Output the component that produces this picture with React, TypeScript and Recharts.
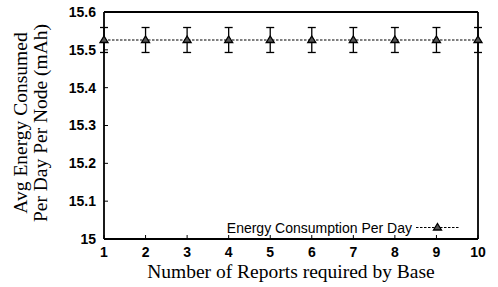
import {
  ComposedChart,
  Line,
  ErrorBar,
  XAxis,
  YAxis,
  Legend,
} from "recharts";

const reports = [1, 2, 3, 4, 5, 6, 7, 8, 9, 10];
const energy = [15.526, 15.526, 15.526, 15.526, 15.526, 15.526, 15.526, 15.526, 15.526, 15.526];
const energyErr = [0.033, 0.033, 0.033, 0.033, 0.033, 0.033, 0.033, 0.033, 0.033, 0.033];
const yTicks = [15, 15.1, 15.2, 15.3, 15.4, 15.5, 15.6];

const data = reports.map((x, i) => ({ x, energy: energy[i], err: energyErr[i] }));

const SANS = "'Liberation Sans', Arial, sans-serif";
const SERIF = "'Liberation Serif', 'Times New Roman', serif";

function Triangle(props: any) {
  const { cx, cy } = props;
  if (cx == null || cy == null) return null;
  return (
    <path
      d={`M${cx},${cy - 4} L${cx + 4},${cy + 2.5} L${cx - 4},${cy + 2.5} Z`}
      fill="#555"
      stroke="#000"
      strokeWidth={1.3}
    />
  );
}

function YTitle(props: any) {
  const x0 = props.viewBox ? props.viewBox.x : 0;
  const yc = 123;
  return (
    <g fontFamily={SERIF} fontSize={19.5} fill="#000">
      <text x={x0 + 27} y={yc} textAnchor="middle" transform={`rotate(-90 ${x0 + 27} ${yc})`}>
        Avg Energy Consumed
      </text>
      <text x={x0 + 47} y={yc} textAnchor="middle" transform={`rotate(-90 ${x0 + 47} ${yc})`}>
        Per Day Per Node (mAh)
      </text>
    </g>
  );
}

function KeyBox(props: any) {
  const item = props.payload && props.payload[0];
  const name = item ? item.value : "";
  return (
    <svg width={240} height={20} style={{ display: "block" }}>
      <text x={186} y={15} textAnchor="end" fontFamily={SANS} fontSize={14} fill="#000">
        {name}
      </text>
      <line x1={190} x2={233} y1={9.5} y2={9.5} stroke="#000" strokeWidth={1.2} strokeDasharray="2.5 1.5" />
      <path d="M211.5,5.5 L215.5,12 L207.5,12 Z" fill="#555" stroke="#000" strokeWidth={1.3} />
    </svg>
  );
}

export default function App() {
  return (
    <div style={{ position: "absolute", left: 0, top: 0, background: "#fff" }}>
      <ComposedChart
        width={498}
        height={287}
        data={data}
        margin={{ top: 11, right: 19, bottom: 0, left: 0 }}
      >
        <XAxis
          dataKey="x"
          type="number"
          domain={[1, 10]}
          ticks={reports}
          height={48}
          tickSize={-4}
          tickMargin={12}
          axisLine={{ stroke: "#000", strokeWidth: 1.8 }}
          tickLine={{ stroke: "#000", strokeWidth: 1 }}
          tick={{ fill: "#000", fontSize: 14, fontFamily: SANS, fontWeight: "bold" }}
          label={{
            value: "Number of Reports required by Base",
            position: "insideBottom",
            offset: 9,
            fill: "#000",
            fontSize: 19.5,
            fontFamily: SERIF,
          }}
        />
        <XAxis
          xAxisId="top"
          orientation="top"
          type="number"
          domain={[1, 10]}
          ticks={reports}
          height={1}
          tickSize={-4}
          tick={false}
          axisLine={{ stroke: "#000", strokeWidth: 1.8 }}
          tickLine={{ stroke: "#000", strokeWidth: 1 }}
        />
        <YAxis
          type="number"
          domain={[15, 15.6]}
          ticks={yTicks}
          width={104}
          tickSize={-4}
          tickMargin={12}
          axisLine={{ stroke: "#000", strokeWidth: 1.8 }}
          tickLine={{ stroke: "#000", strokeWidth: 1 }}
          tick={{ fill: "#000", fontSize: 14, fontFamily: SANS, fontWeight: "bold" }}
          label={{ content: YTitle }}
        />
        <YAxis
          yAxisId="right"
          orientation="right"
          type="number"
          domain={[15, 15.6]}
          ticks={yTicks}
          width={1}
          tickSize={-4}
          tick={false}
          axisLine={{ stroke: "#000", strokeWidth: 1.8 }}
          tickLine={{ stroke: "#000", strokeWidth: 1 }}
        />
        <Legend
          layout="vertical"
          verticalAlign="middle"
          align="center"
          content={KeyBox}
          wrapperStyle={{ left: 226, top: 218, width: 240 }}
        />
        <Line
          dataKey="energy"
          name="Energy Consumption Per Day"
          stroke="#000"
          strokeWidth={1.2}
          strokeDasharray="2.5 1.5"
          dot={<Triangle />}
          activeDot={false}
          isAnimationActive={false}
        >
          <ErrorBar
            dataKey="err"
            direction="y"
            width={4}
            stroke="#000"
            strokeWidth={1.3}
            isAnimationActive={false}
          />
        </Line>
      </ComposedChart>
    </div>
  );
}
